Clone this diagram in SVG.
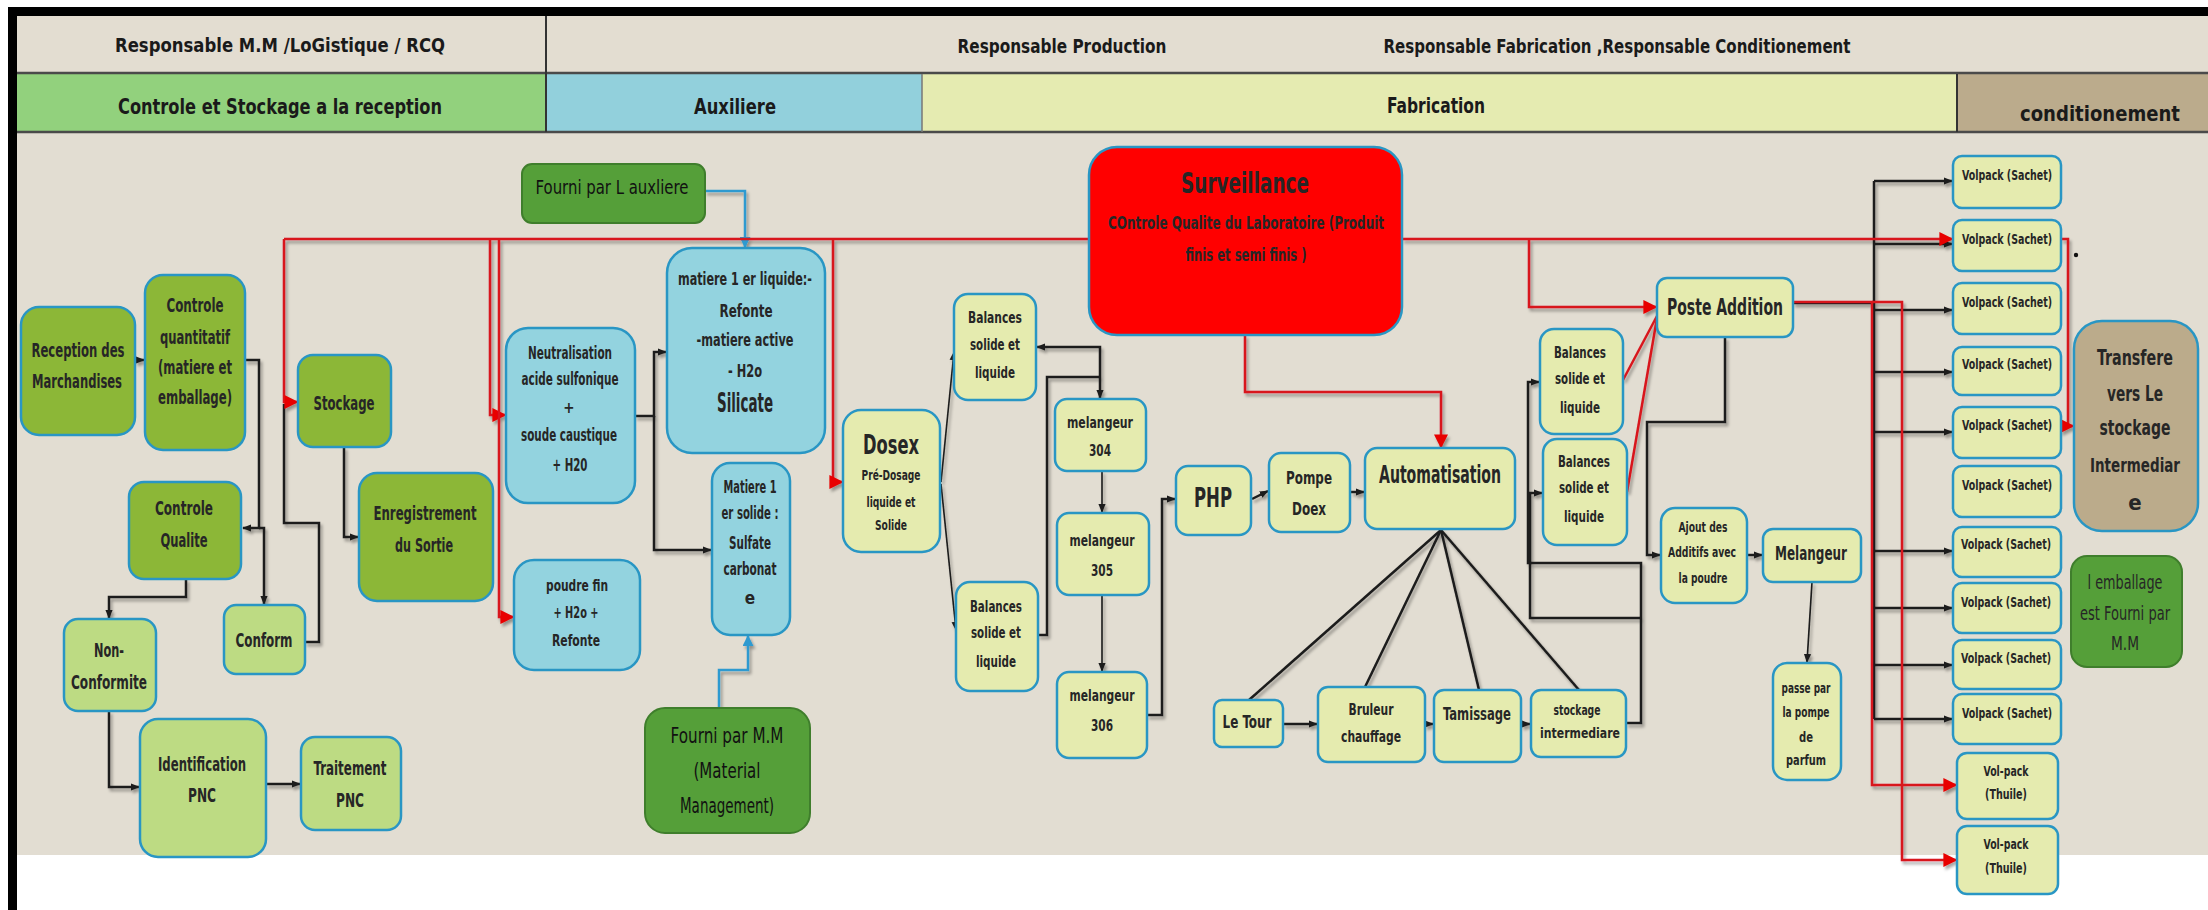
<svg xmlns="http://www.w3.org/2000/svg" width="2208" height="910" viewBox="0 0 2208 910">
<defs>
<style>
.t{font-family:"Liberation Sans Narrow","DejaVu Sans Condensed","Liberation Sans",Arial,sans-serif;font-weight:bold;fill:#262626;text-anchor:middle;dominant-baseline:central}
.h{font-family:"Liberation Sans Narrow","DejaVu Sans Condensed","Liberation Sans",Arial,sans-serif;font-weight:bold;fill:#1a1a1a;text-anchor:middle;dominant-baseline:central}
.c{font-family:"DejaVu Sans","Liberation Sans",sans-serif;fill:#111;text-anchor:middle;dominant-baseline:central}
.nw{font-weight:normal}
.n{stroke:#2996C4;stroke-width:2.5}
.g1{fill:#8CB737}
.g2{fill:#BDDB83}
.bl{fill:#93D3DF}
.yl{fill:#E5EBAF}
.dg{fill:#559F39;stroke:#3F7E2C;stroke-width:2}
.rd{fill:#FF0000}
.tn{fill:#BBAB8B}
.k{fill:none;stroke:#1b1b1b;stroke-width:2.5}
.kt{fill:none;stroke:#1b1b1b;stroke-width:1.6}
.r{fill:none;stroke:#D8171E;stroke-width:2.5}
.b{fill:none;stroke:#2E9AD0;stroke-width:2.5}
</style>
<marker id="ak" viewBox="0 0 10 10" refX="9" refY="5" markerWidth="9" markerHeight="9" markerUnits="userSpaceOnUse" orient="auto-start-reverse"><path d="M0,1 L10,5 L0,9 z" fill="#1b1b1b"/></marker>
<marker id="ar" viewBox="0 0 10 10" refX="9" refY="5" markerWidth="14" markerHeight="14" markerUnits="userSpaceOnUse" orient="auto"><path d="M0,0 L10,5 L0,10 z" fill="#E80000"/></marker>
<marker id="ab" viewBox="0 0 10 10" refX="9" refY="5" markerWidth="11" markerHeight="11" markerUnits="userSpaceOnUse" orient="auto"><path d="M0,0 L10,5 L0,10 z" fill="#2E9AD0"/></marker>
<filter id="sh" x="-5%" y="-5%" width="110%" height="110%"><feDropShadow dx="2" dy="3" stdDeviation="1.6" flood-color="#000" flood-opacity="0.35"/></filter>
</defs>

<!-- page frame and swimlane header -->
<g id="frame">
<rect x="0" y="0" width="2208" height="910" fill="#FFFFFF"/>
<rect x="17" y="133" width="2191" height="722" fill="#E2DDD2"/>
<rect x="17" y="16" width="2191" height="56" fill="#E3DDD1"/>
<rect x="17" y="74" width="529" height="57" fill="#92D17D"/>
<rect x="546" y="74" width="376" height="57" fill="#92D0DC"/>
<rect x="922" y="74" width="1035" height="57" fill="#E5EBB1"/>
<rect x="1957" y="74" width="251" height="57" fill="#BBAB8C"/>
<line x1="17" y1="73" x2="2208" y2="73" stroke="#4a4a4a" stroke-width="2.5"/>
<line x1="17" y1="132" x2="2208" y2="132" stroke="#4a4a4a" stroke-width="2.5"/>
<line x1="546" y1="16" x2="546" y2="132" stroke="#333" stroke-width="2"/>
<line x1="922" y1="74" x2="922" y2="132" stroke="#777" stroke-width="1.5"/>
<line x1="1957" y1="74" x2="1957" y2="132" stroke="#333" stroke-width="2"/>
<rect x="8" y="7" width="2200" height="9" fill="#000"/>
<rect x="8" y="7" width="9" height="903" fill="#000"/>
<text class="h" x="280" y="45" font-size="19" textLength="330" lengthAdjust="spacingAndGlyphs">Responsable M.M /LoGistique / RCQ</text>
<text class="h" x="1062" y="46" font-size="19" textLength="209" lengthAdjust="spacingAndGlyphs">Responsable Production</text>
<text class="h" x="1617" y="46" font-size="19" textLength="467" lengthAdjust="spacingAndGlyphs">Responsable Fabrication ,Responsable Conditionement</text>
<text class="h" x="280" y="106" font-size="22" textLength="324" lengthAdjust="spacingAndGlyphs">Controle et Stockage a la reception</text>
<text class="h" x="735" y="106" font-size="22" textLength="82" lengthAdjust="spacingAndGlyphs">Auxiliere</text>
<text class="h" x="1436" y="105" font-size="22" textLength="98" lengthAdjust="spacingAndGlyphs">Fabrication</text>
<text class="h" x="2100" y="113" font-size="22" textLength="160" lengthAdjust="spacingAndGlyphs">conditionement</text>
</g>

<!-- flow connectors -->
<g id="connectors" filter="url(#sh)">
<!-- reception / stockage -->
<path class="k" d="M135,360 H144" marker-end="url(#ak)"/>
<path class="k" d="M245,360 H259 V528 H243" marker-end="url(#ak)"/>
<path class="k" d="M259,528 H264 V604" marker-end="url(#ak)"/>
<path class="k" d="M305,642 H319 V523 H284 V404"/>
<path class="k" d="M344,447 V537 H358" marker-end="url(#ak)"/>
<path class="k" d="M186,579 V597 H109 V618" marker-end="url(#ak)"/>
<path class="k" d="M109,711 V787 H139" marker-end="url(#ak)"/>
<path class="k" d="M266,784 H300" marker-end="url(#ak)"/>
<!-- auxiliaire -->
<path class="k" d="M635,416 H654 V352 H666" marker-end="url(#ak)"/>
<path class="k" d="M654,416 V550 H711" marker-end="url(#ak)"/>
<path class="b" d="M705,191 H745 V247" marker-end="url(#ab)"/>
<path class="b" d="M719,708 V670 H748 V636" marker-end="url(#ab)"/>
<!-- dosage / melange -->
<path class="kt" d="M941,482 L954,352" marker-end="url(#ak)"/>
<path class="kt" d="M941,484 L956,630" marker-end="url(#ak)"/>
<path class="k" d="M1037,347 H1100 V398" marker-start="url(#ak)" marker-end="url(#ak)"/>
<path class="k" d="M1038,635 H1047 V377 H1100"/>
<path class="kt" d="M1102,471 V512" marker-end="url(#ak)"/>
<path class="kt" d="M1102,595 V671" marker-end="url(#ak)"/>
<path class="k" d="M1147,715 H1162 V499 H1175" marker-end="url(#ak)"/>
<path class="k" d="M1252,499 L1268,491" marker-end="url(#ak)"/>
<path class="k" d="M1351,492 H1364" marker-end="url(#ak)"/>
<!-- automatisation fan -->
<path class="k" d="M1441,530 L1249,700"/>
<path class="k" d="M1441,530 L1365,687"/>
<path class="k" d="M1441,530 L1479,690"/>
<path class="k" d="M1441,530 L1579,690"/>
<path class="k" d="M1283,724 H1317" marker-end="url(#ak)"/>
<path class="k" d="M1425,724 H1433" marker-end="url(#ak)"/>
<path class="k" d="M1521,724 H1530" marker-end="url(#ak)"/>
<path class="k" d="M1626,723 H1641 V563 H1528 V382 H1539" marker-end="url(#ak)"/>
<path class="k" d="M1641,618 H1530 V493 H1542" marker-end="url(#ak)"/>
<!-- poste addition -->
<path class="k" d="M1725,337 V422 H1647 V555 H1660" marker-end="url(#ak)"/>
<path class="k" d="M1747,555 H1762" marker-end="url(#ak)"/>
<path class="kt" d="M1812,582 L1807,662" marker-end="url(#ak)"/>
<path class="k" d="M1793,303 H1874"/>
<path class="k" d="M1874,181 V719"/>
<path class="k" d="M1874,181 H1952" marker-end="url(#ak)"/>
<path class="k" d="M1874,244 H1952" marker-end="url(#ak)"/>
<path class="k" d="M1874,310 H1952" marker-end="url(#ak)"/>
<path class="k" d="M1874,372 H1952" marker-end="url(#ak)"/>
<path class="k" d="M1874,432 H1952" marker-end="url(#ak)"/>
<path class="k" d="M1874,551 H1952" marker-end="url(#ak)"/>
<path class="k" d="M1874,608 H1952" marker-end="url(#ak)"/>
<path class="k" d="M1874,665 H1952" marker-end="url(#ak)"/>
<path class="k" d="M1874,719 H1952" marker-end="url(#ak)"/>
<!-- laboratory surveillance (red) -->
<path class="r" d="M284,239 H1089"/>
<path class="r" d="M1402,239 H1952" marker-end="url(#ar)"/>
<path class="r" d="M284,239 V402 H297" marker-end="url(#ar)"/>
<path class="r" d="M490,239 V415 H505" marker-end="url(#ar)"/>
<path class="r" d="M499,239 V617 H513" marker-end="url(#ar)"/>
<path class="r" d="M833,239 V482 H842" marker-end="url(#ar)"/>
<path class="r" d="M1529,239 V307 H1656" marker-end="url(#ar)"/>
<path class="r" d="M1245,335 V392 H1441 V447" marker-end="url(#ar)"/>
<path class="r" d="M1623,380 L1657,316"/>
<path class="r" d="M1627,492 L1657,318"/>
<path class="r" d="M2061,239 H2068 V426 H2073" marker-end="url(#ar)"/>
<path class="r" d="M1793,302 H1872 V785 H1956" marker-end="url(#ar)"/>
<path class="r" d="M1872,302 H1902 V860 H1956" marker-end="url(#ar)"/>
</g>

<!-- reception and storage -->
<g id="n-reception"><rect class="n g1" x="21" y="307" width="114" height="128" rx="18"/>
<text class="t" x="78" y="350" font-size="20" textLength="93" lengthAdjust="spacingAndGlyphs">Reception des</text>
<text class="t" x="77" y="381" font-size="20" textLength="90" lengthAdjust="spacingAndGlyphs">Marchandises</text></g>
<g id="n-controle-quantitatif"><rect class="n g1" x="145" y="275" width="100" height="175" rx="18"/>
<text class="t" x="195" y="305" font-size="20" textLength="57" lengthAdjust="spacingAndGlyphs">Controle</text>
<text class="t" x="195" y="337" font-size="20" textLength="70" lengthAdjust="spacingAndGlyphs">quantitatif</text>
<text class="t" x="195" y="367" font-size="20" textLength="74" lengthAdjust="spacingAndGlyphs">(matiere et</text>
<text class="t" x="195" y="397" font-size="20" textLength="74" lengthAdjust="spacingAndGlyphs">emballage)</text></g>
<g id="n-stockage"><rect class="n g1" x="298" y="355" width="93" height="92" rx="15"/>
<text class="t" x="344" y="403" font-size="20" textLength="61" lengthAdjust="spacingAndGlyphs">Stockage</text></g>
<g id="n-controle-qualite"><rect class="n g1" x="129" y="482" width="112" height="97" rx="15"/>
<text class="t" x="184" y="508" font-size="20" textLength="58" lengthAdjust="spacingAndGlyphs">Controle</text>
<text class="t" x="184" y="540" font-size="20" textLength="47" lengthAdjust="spacingAndGlyphs">Qualite</text></g>
<g id="n-enregistrement"><rect class="n g1" x="359" y="473" width="134" height="128" rx="18"/>
<text class="t" x="425" y="513" font-size="20" textLength="103" lengthAdjust="spacingAndGlyphs">Enregistrement</text>
<text class="t" x="424" y="545" font-size="20" textLength="58" lengthAdjust="spacingAndGlyphs">du Sortie</text></g>
<g id="n-conform"><rect class="n g2" x="224" y="605" width="81" height="69" rx="12"/>
<text class="t" x="264" y="640" font-size="19" textLength="57" lengthAdjust="spacingAndGlyphs">Conform</text></g>
<g id="n-non-conformite"><rect class="n g2" x="64" y="619" width="92" height="92" rx="14"/>
<text class="t" x="109" y="650" font-size="19" textLength="30" lengthAdjust="spacingAndGlyphs">Non-</text>
<text class="t" x="109" y="682" font-size="19" textLength="76" lengthAdjust="spacingAndGlyphs">Conformite</text></g>
<g id="n-identification"><rect class="n g2" x="140" y="719" width="126" height="138" rx="18"/>
<text class="t" x="202" y="764" font-size="19" textLength="88" lengthAdjust="spacingAndGlyphs">Identification</text>
<text class="t" x="202" y="795" font-size="19" textLength="28" lengthAdjust="spacingAndGlyphs">PNC</text></g>
<g id="n-traitement"><rect class="n g2" x="301" y="737" width="100" height="93" rx="14"/>
<text class="t" x="350" y="768" font-size="19" textLength="73" lengthAdjust="spacingAndGlyphs">Traitement</text>
<text class="t" x="350" y="800" font-size="19" textLength="28" lengthAdjust="spacingAndGlyphs">PNC</text></g>

<!-- auxiliary preparation -->
<g id="n-fourni-auxiliere"><rect class="dg" x="522" y="164" width="183" height="59" rx="10"/>
<text class="c" x="612" y="187" font-size="19" textLength="153" lengthAdjust="spacingAndGlyphs">Fourni par  L auxliere</text></g>
<g id="n-neutralisation"><rect class="n bl" x="506" y="328" width="129" height="175" rx="22"/>
<text class="t" x="570" y="353" font-size="17" textLength="84" lengthAdjust="spacingAndGlyphs">Neutralisation</text>
<text class="t" x="570" y="379" font-size="17" textLength="97" lengthAdjust="spacingAndGlyphs">acide sulfonique</text>
<text class="t" x="569" y="408" font-size="15">+</text>
<text class="t" x="569" y="435" font-size="17" textLength="96" lengthAdjust="spacingAndGlyphs">soude caustique</text>
<text class="t" x="570" y="465" font-size="17" textLength="35" lengthAdjust="spacingAndGlyphs">+ H20</text></g>
<g id="n-matiere-liquide"><rect class="n bl" x="667" y="248" width="158" height="205" rx="25"/>
<text class="t" x="745" y="278" font-size="18" textLength="134" lengthAdjust="spacingAndGlyphs">matiere 1 er liquide:-</text>
<text class="t" x="746" y="310" font-size="18" textLength="53" lengthAdjust="spacingAndGlyphs">Refonte</text>
<text class="t" x="745" y="339" font-size="18" textLength="97" lengthAdjust="spacingAndGlyphs">-matiere active</text>
<text class="t" x="745" y="370" font-size="18" textLength="34" lengthAdjust="spacingAndGlyphs">- H2o</text>
<text class="t" x="745" y="403" font-size="26" textLength="56" lengthAdjust="spacingAndGlyphs">Silicate</text></g>
<g id="n-poudre-fin"><rect class="n bl" x="514" y="560" width="126" height="110" rx="20"/>
<text class="t" x="577" y="585" font-size="16" textLength="62" lengthAdjust="spacingAndGlyphs">poudre fin</text>
<text class="t" x="576" y="612" font-size="16" textLength="45" lengthAdjust="spacingAndGlyphs">+ H2o +</text>
<text class="t" x="576" y="640" font-size="16" textLength="48" lengthAdjust="spacingAndGlyphs">Refonte</text></g>
<g id="n-matiere-solide"><rect class="n bl" x="712" y="463" width="78" height="172" rx="18"/>
<text class="t" x="750" y="487" font-size="17" textLength="53" lengthAdjust="spacingAndGlyphs">Matiere 1</text>
<text class="t" x="750" y="513" font-size="17" textLength="57" lengthAdjust="spacingAndGlyphs">er solide :</text>
<text class="t" x="750" y="543" font-size="17" textLength="42" lengthAdjust="spacingAndGlyphs">Sulfate</text>
<text class="t" x="750" y="569" font-size="17" textLength="53" lengthAdjust="spacingAndGlyphs">carbonat</text>
<text class="t" x="750" y="598" font-size="17">e</text></g>
<g id="n-fourni-mm"><rect class="dg" x="645" y="708" width="165" height="125" rx="20"/>
<text class="c" x="727" y="735" font-size="22" textLength="113" lengthAdjust="spacingAndGlyphs">Fourni par  M.M</text>
<text class="c" x="727" y="770" font-size="22" textLength="67" lengthAdjust="spacingAndGlyphs">(Material</text>
<text class="c" x="727" y="805" font-size="22" textLength="94" lengthAdjust="spacingAndGlyphs">Management)</text></g>

<!-- fabrication -->
<g id="n-surveillance"><rect class="n rd" x="1089" y="147" width="313" height="188" rx="28"/>
<text class="t" x="1245" y="183" font-size="29" fill="#111" textLength="128" lengthAdjust="spacingAndGlyphs">Surveillance</text>
<text class="t" x="1246" y="223" font-size="17" textLength="276" lengthAdjust="spacingAndGlyphs">COntrole Qualite du Laboratoire  (Produit</text>
<text class="t" x="1246" y="255" font-size="17" textLength="121" lengthAdjust="spacingAndGlyphs">finis et semi finis )</text></g>
<g id="n-dosex"><rect class="n yl" x="843" y="410" width="97" height="142" rx="18"/>
<text class="t" x="891" y="444" font-size="27" fill="#111" textLength="56" lengthAdjust="spacingAndGlyphs">Dosex</text>
<text class="t" x="891" y="475" font-size="14" textLength="59" lengthAdjust="spacingAndGlyphs">Pré-Dosage</text>
<text class="t" x="891" y="502" font-size="14" textLength="49" lengthAdjust="spacingAndGlyphs">liquide et</text>
<text class="t" x="891" y="525" font-size="14" textLength="32" lengthAdjust="spacingAndGlyphs">Solide</text></g>
<g id="n-balances-1"><rect class="n yl" x="954" y="294" width="82" height="106" rx="14"/>
<text class="t" x="995" y="318" font-size="15" textLength="54" lengthAdjust="spacingAndGlyphs">Balances</text>
<text class="t" x="995" y="345" font-size="15" textLength="50" lengthAdjust="spacingAndGlyphs">solide et</text>
<text class="t" x="995" y="373" font-size="15" textLength="40" lengthAdjust="spacingAndGlyphs">liquide</text></g>
<g id="n-balances-2"><rect class="n yl" x="956" y="582" width="82" height="109" rx="14"/>
<text class="t" x="996" y="607" font-size="15" textLength="52" lengthAdjust="spacingAndGlyphs">Balances</text>
<text class="t" x="996" y="633" font-size="15" textLength="50" lengthAdjust="spacingAndGlyphs">solide et</text>
<text class="t" x="996" y="662" font-size="15" textLength="40" lengthAdjust="spacingAndGlyphs">liquide</text></g>
<g id="n-melangeur-304"><rect class="n yl" x="1055" y="399" width="91" height="72" rx="12"/>
<text class="t" x="1100" y="422" font-size="16" textLength="66" lengthAdjust="spacingAndGlyphs">melangeur</text>
<text class="t" x="1100" y="450" font-size="16" textLength="22" lengthAdjust="spacingAndGlyphs">304</text></g>
<g id="n-melangeur-305"><rect class="n yl" x="1057" y="513" width="92" height="82" rx="12"/>
<text class="t" x="1102" y="540" font-size="16" textLength="65" lengthAdjust="spacingAndGlyphs">melangeur</text>
<text class="t" x="1102" y="570" font-size="16" textLength="22" lengthAdjust="spacingAndGlyphs">305</text></g>
<g id="n-melangeur-306"><rect class="n yl" x="1057" y="672" width="90" height="86" rx="12"/>
<text class="t" x="1102" y="695" font-size="16" textLength="65" lengthAdjust="spacingAndGlyphs">melangeur</text>
<text class="t" x="1102" y="725" font-size="16" textLength="22" lengthAdjust="spacingAndGlyphs">306</text></g>
<g id="n-php"><rect class="n yl" x="1176" y="466" width="75" height="69" rx="12"/>
<text class="t" x="1213" y="497" font-size="27" fill="#111" textLength="38" lengthAdjust="spacingAndGlyphs">PHP</text></g>
<g id="n-pompe-doex"><rect class="n yl" x="1269" y="453" width="81" height="79" rx="12"/>
<text class="t" x="1309" y="477" font-size="18" textLength="46" lengthAdjust="spacingAndGlyphs">Pompe</text>
<text class="t" x="1309" y="508" font-size="18" textLength="34" lengthAdjust="spacingAndGlyphs">Doex</text></g>
<g id="n-automatisation"><rect class="n yl" x="1365" y="448" width="150" height="81" rx="12"/>
<text class="t" x="1440" y="475" font-size="24" fill="#111" textLength="122" lengthAdjust="spacingAndGlyphs">Automatisation</text></g>
<g id="n-le-tour"><rect class="n yl" x="1214" y="700" width="69" height="47" rx="8"/>
<text class="t" x="1247" y="722" font-size="17" textLength="49" lengthAdjust="spacingAndGlyphs">Le Tour</text></g>
<g id="n-bruleur"><rect class="n yl" x="1318" y="687" width="107" height="75" rx="10"/>
<text class="t" x="1371" y="709" font-size="16" textLength="45" lengthAdjust="spacingAndGlyphs">Bruleur</text>
<text class="t" x="1371" y="736" font-size="16" textLength="60" lengthAdjust="spacingAndGlyphs">chauffage</text></g>
<g id="n-tamissage"><rect class="n yl" x="1434" y="690" width="87" height="72" rx="10"/>
<text class="t" x="1477" y="713" font-size="18" textLength="68" lengthAdjust="spacingAndGlyphs">Tamissage</text></g>
<g id="n-stockage-intermediare"><rect class="n yl" x="1531" y="690" width="95" height="67" rx="10"/>
<text class="t" x="1577" y="710" font-size="14" textLength="47" lengthAdjust="spacingAndGlyphs">stockage</text>
<text class="t" x="1580" y="733" font-size="14" textLength="80" lengthAdjust="spacingAndGlyphs">intermediare</text></g>
<g id="n-poste-addition"><rect class="n yl" x="1657" y="278" width="136" height="59" rx="10"/>
<text class="t" x="1725" y="307" font-size="23" fill="#111" textLength="116" lengthAdjust="spacingAndGlyphs">Poste Addition</text></g>
<g id="n-balances-3"><rect class="n yl" x="1540" y="329" width="83" height="105" rx="14"/>
<text class="t" x="1580" y="353" font-size="15" textLength="52" lengthAdjust="spacingAndGlyphs">Balances</text>
<text class="t" x="1580" y="379" font-size="15" textLength="50" lengthAdjust="spacingAndGlyphs">solide et</text>
<text class="t" x="1580" y="408" font-size="15" textLength="40" lengthAdjust="spacingAndGlyphs">liquide</text></g>
<g id="n-balances-4"><rect class="n yl" x="1543" y="439" width="84" height="106" rx="14"/>
<text class="t" x="1584" y="462" font-size="15" textLength="52" lengthAdjust="spacingAndGlyphs">Balances</text>
<text class="t" x="1584" y="488" font-size="15" textLength="50" lengthAdjust="spacingAndGlyphs">solide et</text>
<text class="t" x="1584" y="517" font-size="15" textLength="40" lengthAdjust="spacingAndGlyphs">liquide</text></g>
<g id="n-ajout-additifs"><rect class="n yl" x="1661" y="508" width="86" height="95" rx="14"/>
<text class="t" x="1703" y="527" font-size="14" textLength="49" lengthAdjust="spacingAndGlyphs">Ajout des</text>
<text class="t" x="1702" y="552" font-size="14" textLength="68" lengthAdjust="spacingAndGlyphs">Additifs avec</text>
<text class="t" x="1703" y="578" font-size="14" textLength="49" lengthAdjust="spacingAndGlyphs">la poudre</text></g>
<g id="n-melangeur"><rect class="n yl" x="1763" y="529" width="98" height="53" rx="10"/>
<text class="t" x="1811" y="553" font-size="20" textLength="72" lengthAdjust="spacingAndGlyphs">Melangeur</text></g>
<g id="n-passe-pompe"><rect class="n yl" x="1773" y="663" width="68" height="117" rx="14"/>
<text class="t" x="1806" y="688" font-size="14" textLength="49" lengthAdjust="spacingAndGlyphs">passe par</text>
<text class="t" x="1806" y="712" font-size="14" textLength="47" lengthAdjust="spacingAndGlyphs">la pompe</text>
<text class="t" x="1806" y="737" font-size="14" textLength="14" lengthAdjust="spacingAndGlyphs">de</text>
<text class="t" x="1806" y="760" font-size="14" textLength="40" lengthAdjust="spacingAndGlyphs">parfum</text></g>

<!-- conditionnement -->
<g id="n-volpack-1"><rect class="n yl" x="1953" y="156" width="108" height="52" rx="9"/>
<text class="t" x="2007" y="175" font-size="14" textLength="90" lengthAdjust="spacingAndGlyphs">Volpack (Sachet)</text></g>
<g id="n-volpack-2"><rect class="n yl" x="1953" y="220" width="108" height="51" rx="9"/>
<text class="t" x="2007" y="239" font-size="14" textLength="90" lengthAdjust="spacingAndGlyphs">Volpack (Sachet)</text></g>
<g id="n-volpack-3"><rect class="n yl" x="1953" y="283" width="108" height="51" rx="9"/>
<text class="t" x="2007" y="302" font-size="14" textLength="90" lengthAdjust="spacingAndGlyphs">Volpack (Sachet)</text></g>
<g id="n-volpack-4"><rect class="n yl" x="1953" y="347" width="108" height="48" rx="9"/>
<text class="t" x="2007" y="364" font-size="14" textLength="90" lengthAdjust="spacingAndGlyphs">Volpack (Sachet)</text></g>
<g id="n-volpack-5"><rect class="n yl" x="1953" y="407" width="108" height="51" rx="9"/>
<text class="t" x="2007" y="425" font-size="14" textLength="90" lengthAdjust="spacingAndGlyphs">Volpack (Sachet)</text></g>
<g id="n-volpack-6"><rect class="n yl" x="1953" y="466" width="108" height="51" rx="9"/>
<text class="t" x="2007" y="485" font-size="14" textLength="90" lengthAdjust="spacingAndGlyphs">Volpack (Sachet)</text></g>
<g id="n-volpack-7"><rect class="n yl" x="1953" y="527" width="108" height="50" rx="9"/>
<text class="t" x="2006" y="544" font-size="14" textLength="90" lengthAdjust="spacingAndGlyphs">Volpack (Sachet)</text></g>
<g id="n-volpack-8"><rect class="n yl" x="1953" y="583" width="108" height="50" rx="9"/>
<text class="t" x="2006" y="602" font-size="14" textLength="90" lengthAdjust="spacingAndGlyphs">Volpack (Sachet)</text></g>
<g id="n-volpack-9"><rect class="n yl" x="1953" y="640" width="108" height="49" rx="9"/>
<text class="t" x="2006" y="658" font-size="14" textLength="90" lengthAdjust="spacingAndGlyphs">Volpack (Sachet)</text></g>
<g id="n-volpack-10"><rect class="n yl" x="1953" y="694" width="108" height="50" rx="9"/>
<text class="t" x="2007" y="713" font-size="14" textLength="90" lengthAdjust="spacingAndGlyphs">Volpack (Sachet)</text></g>
<g id="n-volpack-thuile-1"><rect class="n yl" x="1957" y="753" width="101" height="66" rx="10"/>
<text class="t" x="2006" y="771" font-size="14" textLength="45" lengthAdjust="spacingAndGlyphs">Vol-pack</text>
<text class="t" x="2006" y="794" font-size="14" textLength="42" lengthAdjust="spacingAndGlyphs">(Thuile)</text></g>
<g id="n-volpack-thuile-2"><rect class="n yl" x="1957" y="826" width="101" height="68" rx="10"/>
<text class="t" x="2006" y="844" font-size="14" textLength="45" lengthAdjust="spacingAndGlyphs">Vol-pack</text>
<text class="t" x="2006" y="868" font-size="14" textLength="42" lengthAdjust="spacingAndGlyphs">(Thuile)</text></g>
<g id="n-transfere"><rect class="n tn" x="2074" y="321" width="124" height="210" rx="28"/>
<text class="t" x="2135" y="357" font-size="22" fill="#111" textLength="76" lengthAdjust="spacingAndGlyphs">Transfere</text>
<text class="t" x="2135" y="393" font-size="22" fill="#111" textLength="56" lengthAdjust="spacingAndGlyphs">vers Le</text>
<text class="t" x="2135" y="427" font-size="22" fill="#111" textLength="71" lengthAdjust="spacingAndGlyphs">stockage</text>
<text class="t" x="2135" y="465" font-size="20" fill="#111" textLength="90" lengthAdjust="spacingAndGlyphs">Intermediar</text>
<text class="t" x="2135" y="502" font-size="22" fill="#111">e</text></g>
<g id="n-emballage"><rect class="dg" x="2071" y="556" width="111" height="111" rx="16"/>
<text class="t nw" x="2125" y="582" font-size="20" fill="#1a2a10" textLength="75" lengthAdjust="spacingAndGlyphs">l emballage</text>
<text class="t nw" x="2125" y="613" font-size="20" fill="#1a2a10" textLength="90" lengthAdjust="spacingAndGlyphs">est Fourni par</text>
<text class="t nw" x="2125" y="643" font-size="20" fill="#1a2a10" textLength="28" lengthAdjust="spacingAndGlyphs">M.M</text></g>
<circle cx="2076" cy="255" r="2.2" fill="#111"/>
</svg>
